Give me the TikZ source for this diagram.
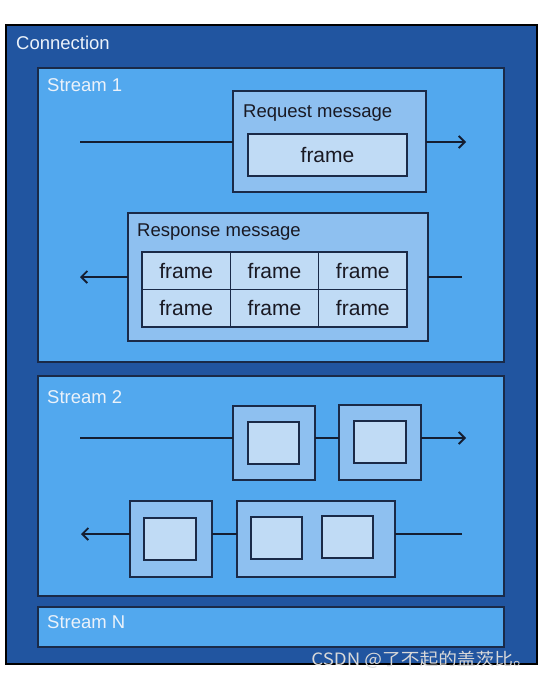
\documentclass[tikz,border=0pt]{standalone}
\usepackage{fontspec}
\setmainfont{Liberation Sans}
\newfontfamily\cjkfont{Noto Sans CJK SC}
\usepackage{xcolor}
\usepackage{tikz}
\usetikzlibrary{arrows.meta, positioning}
\definecolor{httpconn}{RGB}{33,85,160}
\definecolor{httpstream}{RGB}{82,168,238}
\definecolor{httpmsg}{RGB}{142,192,240}
\definecolor{httpframe}{RGB}{192,219,245}
\definecolor{httpline}{RGB}{26,42,72}
\definecolor{httparrow}{RGB}{20,30,50}
\definecolor{httplight}{RGB}{235,242,250}
\definecolor{httpdark}{RGB}{25,25,35}

\tikzset{
  pane/.style={draw=httpline, line width=1.3pt, inner sep=0pt, outer sep=0pt, rectangle},
  connpane/.style={pane, draw=black, fill=httpconn},
  streampane/.style={pane, fill=httpstream},
  msgpane/.style={pane, fill=httpmsg},
  framepane/.style={pane, fill=httpframe, text=httpdark, font=\fontsize{21}{25}\selectfont},
  lightlbl/.style={inner sep=0pt, text=httplight, font=\fontsize{18.5}{22}\selectfont},
  darklbl/.style={inner sep=0pt, text=httpdark, font=\fontsize{18.5}{22}\selectfont},
  flow/.style={draw=httparrow, line width=1.8pt},
  flowtip/.style={flow, -{Straight Barb[length=6pt,width=12pt]}}
}

\begin{document}
\begin{tikzpicture}[x=1pt, y=-1pt]
        \useasboundingbox (0,0) rectangle (546,680);
        \node[connpane, minimum width=531pt, minimum height=639pt] (conn) at (271.5,344.5) {};
        \node[lightlbl, anchor=base west] (connlbl) at (16,49) {Connection};

        \node[streampane, minimum width=466pt, minimum height=294pt] (stream1) at (271,215) {};
        \node[streampane, minimum width=466pt, minimum height=220pt] (stream2) at (271,486) {};
        \node[streampane, minimum width=466pt, minimum height=40pt] (streamN) at (271,627) {};
        \node[lightlbl, anchor=base west] (stream1lbl) at (47,91) {Stream 1};
        \node[lightlbl, anchor=base west] (stream2lbl) at (47,403) {Stream 2};
        \node[lightlbl, anchor=base west] (streamNlbl) at (47,628) {Stream N};

        \node[msgpane, minimum width=193pt, minimum height=101pt] (req) at (329.5,141.5) {};
        \node[darklbl, anchor=base west] (reqlbl) at (243,117) {Request message};
        \node[framepane, minimum width=159pt, minimum height=42pt] (reqframe) at (327.5,155) {frame};
        \coordinate (reqin) at (80,142);
        \coordinate (reqout) at (466,142);
        \draw[flow] (reqin) -- (reqin -| req.west);
        \draw[flowtip] (reqin -| req.east) -- (reqout);

        \node[msgpane, minimum width=300pt, minimum height=128pt] (resp) at (278,277) {};
        \node[darklbl, anchor=base west] (resplbl) at (137,236) {Response message};
        \foreach \r/\yy in {0/270.75, 1/308.25}
          \foreach \c in {0,1,2}
            \node[framepane, minimum width=88.33pt, minimum height=37.5pt] (resp\r\c) at ({186.17+88.33*\c},\yy) {frame};
        \coordinate (respin) at (462,277);
        \coordinate (respout) at (80,277);
        \draw[flow] (respin) -- (resp.east);
        \draw[flowtip] (resp.west) -- (respout);

        \node[msgpane, minimum width=82pt, minimum height=74pt] (upA) at (274,443) {};
        \node[msgpane, minimum width=82pt, minimum height=75pt] (upB) at (380,442.5) {};
        \node[framepane, minimum width=51pt, minimum height=42pt] (upAframe) at (273.5,443) {};
        \node[framepane, minimum width=52pt, minimum height=42pt] (upBframe) at (380,442) {};
        \coordinate (upin) at (80,438);
        \coordinate (upout) at (466,438);
        \draw[flow] (upin) -- (upin -| upA.west);
        \draw[flow] (upin -| upA.east) -- (upin -| upB.west);
        \draw[flowtip] (upin -| upB.east) -- (upout);

        \node[msgpane, minimum width=82pt, minimum height=76pt] (downC) at (171,539) {};
        \node[msgpane, minimum width=158pt, minimum height=76pt] (downD) at (316,539) {};
        \node[framepane, minimum width=52pt, minimum height=42pt] (downCframe) at (170,539) {};
        \node[framepane, minimum width=51pt, minimum height=42pt] (downDframe1) at (276.5,538) {};
        \node[framepane, minimum width=51pt, minimum height=42pt] (downDframe2) at (347.5,537) {};
        \coordinate (downin) at (462,534);
        \coordinate (downout) at (81,534);
        \draw[flow] (downin) -- (downin -| downD.east);
        \draw[flow] (downin -| downD.west) -- (downin -| downC.east);
        \draw[flowtip] (downin -| downC.west) -- (downout);

        \node[inner sep=0pt, text=black!15, anchor=base east, xscale=1.1,
          font=\cjkfont\fontsize{17}{20}\selectfont] (mark) at (532,665) {CSDN @了不起的盖茨比。};
      \end{tikzpicture}
\end{document}
